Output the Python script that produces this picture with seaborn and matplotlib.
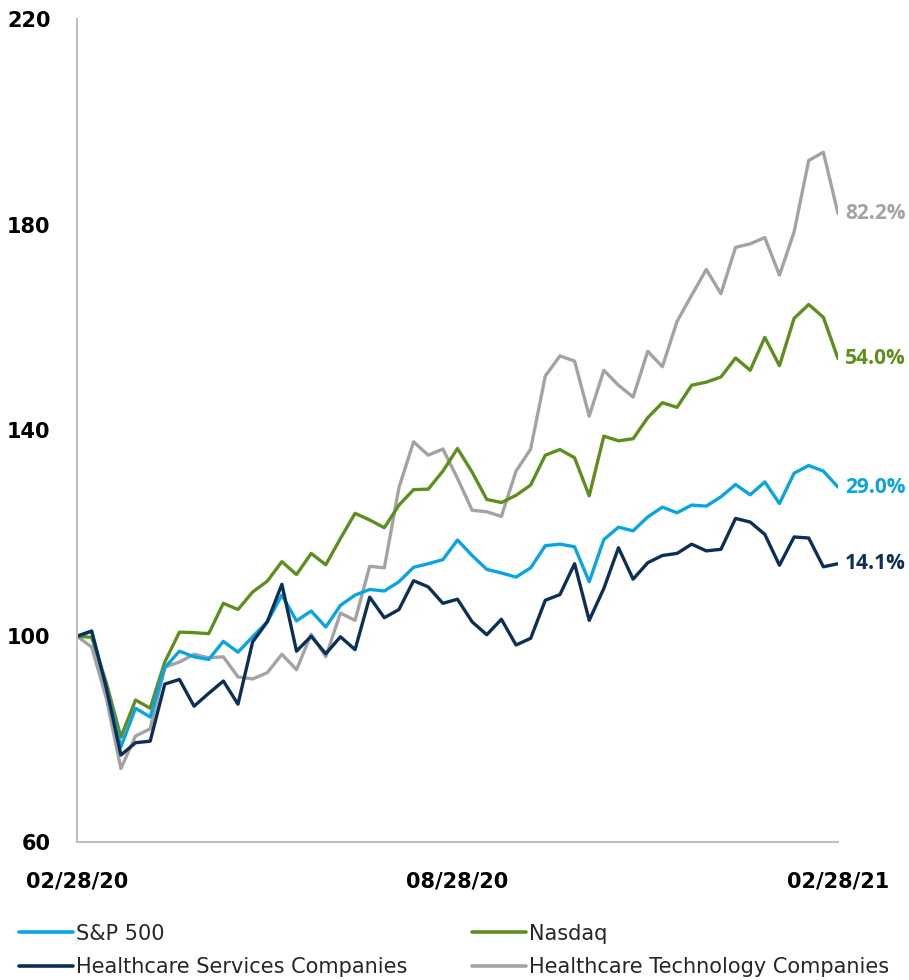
import numpy as np
import pandas as pd
import matplotlib
matplotlib.use("Agg")
import matplotlib.pyplot as plt
import seaborn as sns
from matplotlib.lines import Line2D

# weekly index values, 02/28/20 .. 02/28/21 (base 100)
sp500 = [100, 101, 90, 78.5, 86, 84.3, 93.9, 97.1, 96, 95.5, 99, 96.9, 99.9, 102.8,
         108, 103, 104.9, 101.8, 106, 108, 109.1, 108.8, 110.6, 113.4, 114.1, 114.9,
         118.7, 115.7, 113, 112.3, 111.5, 113.3, 117.6, 117.9, 117.4, 110.6, 118.8,
         121.2, 120.5, 123.2, 125.1, 124, 125.5, 125.3, 127.1, 129.5, 127.5, 130,
         125.8, 131.7, 133.2, 132.1, 129.0]
nasdaq = [100, 99.8, 91, 80.4, 87.6, 86, 95, 100.8, 100.7, 100.5, 106.4, 105.2, 108.6,
          110.7, 114.5, 112, 116.1, 113.9, 119, 123.9, 122.6, 121.1, 125.5, 128.5,
          128.6, 132.1, 136.5, 131.9, 126.6, 126, 127.4, 129.4, 135.2, 136.3, 134.7,
          127.3, 138.9, 138, 138.4, 142.5, 145.4, 144.5, 148.8, 149.4, 150.4, 154.1,
          151.7, 158.1, 152.6, 161.8, 164.5, 162, 154.0]
hc_services = [100, 101, 90, 76.9, 79.3, 79.6, 90.7, 91.6, 86.4, 88.9, 91.3, 86.8, 98.9,
               102.8, 110.1, 97.1, 100, 96.6, 99.9, 97.4, 107.6, 103.6, 105.2, 110.8,
               109.6, 106.4, 107.2, 102.8, 100.3, 103.3, 98.3, 99.6, 107, 108.1, 114.1,
               103.1, 109.3, 117.2, 111.1, 114.3, 115.7, 116.1, 117.9, 116.6, 116.9,
               122.9, 122.2, 119.8, 113.8, 119.3, 119.1, 113.5, 114.1]
hc_tech = [100, 97.9, 88, 74.3, 80.6, 82, 94, 95, 96.5, 95.8, 96, 92.1, 91.7, 92.9,
           96.5, 93.5, 100.4, 96, 104.5, 103.1, 113.6, 113.3, 128.9, 137.8, 135.2,
           136.4, 130.7, 124.5, 124.2, 123.3, 132.1, 136.4, 150.6, 154.5, 153.5, 142.8,
           151.7, 148.8, 146.5, 155.4, 152.4, 161.2, 166.3, 171.3, 166.6, 175.6, 176.3,
           177.5, 170.2, 178.6, 192.5, 194.1, 182.2]

series_names = ["S&P 500", "Nasdaq", "Healthcare Services Companies",
                "Healthcare Technology Companies"]
end_labels = ["29.0%", "54.0%", "14.1%", "82.2%"]
x_tick_labels = ["02/28/20", "08/28/20", "02/28/21"]
colors = {"S&P 500": "#0aa5e0", "Nasdaq": "#5e8f1e",
          "Healthcare Services Companies": "#0b2f55",
          "Healthcare Technology Companies": "#a3a3a3"}

week = np.arange(len(sp500))
df = pd.concat([
    pd.DataFrame({"week": week, "value": vals, "series": name})
    for name, vals in zip(series_names, [sp500, nasdaq, hc_services, hc_tech])
])

sns.set_style("white")
plt.rcParams["font.family"] = ["DejaVu Sans"]

fig = plt.figure(figsize=(9.09, 9.80), dpi=100)
ax = fig.add_axes([77 / 909, 1 - 842 / 980, (838 - 77) / 909, (842 - 19) / 980])

# gray first so it sits under the others
order = ["Healthcare Technology Companies", "Nasdaq", "S&P 500", "Healthcare Services Companies"]
for name in order:
    sns.lineplot(data=df[df.series == name], x="week", y="value", color=colors[name],
                 linewidth=2.4, ax=ax, legend=False)

ax.set_xlim(0, week[-1])
ax.set_ylim(60, 220)
ax.set_yticks([60, 100, 140, 180, 220])
ax.set_xticks([0, 26, 52])
ax.set_xticklabels(x_tick_labels)
ax.set_xlabel("")
ax.set_ylabel("")
for side in ["top", "right"]:
    ax.spines[side].set_visible(False)
for side in ["left", "bottom"]:
    ax.spines[side].set_color("#bfbfbf")
    ax.spines[side].set_linewidth(1.5)
ax.tick_params(axis="both", which="both", length=7, width=1.5, color="#bfbfbf",
               labelsize=15, direction="out")
ax.tick_params(axis="x", pad=14)
ax.tick_params(axis="y", pad=12)
for lab in ax.get_xticklabels() + ax.get_yticklabels():
    lab.set_fontweight("bold")
    lab.set_color("black")

# end-of-line labels
for name, vals, lab in zip(series_names, [sp500, nasdaq, hc_services, hc_tech], end_labels):
    ax.annotate(lab, xy=(week[-1], vals[-1]), xytext=(5, 0), textcoords="offset points",
                va="center", ha="left", color=colors[name], fontsize=15, fontweight="bold",
                family=["Open Sans", "DejaVu Sans"], annotation_clip=False)

handles = [Line2D([], [], color=colors[n], linewidth=2.6) for n in series_names]
leg_order = [0, 2, 1, 3]
fig.legend([handles[i] for i in leg_order], [series_names[i] for i in leg_order],
           ncol=2, loc="lower left", bbox_to_anchor=(0.0, -0.016), frameon=False,
           fontsize=15, handlelength=2.6, handletextpad=0.15, columnspacing=3.1,
           labelspacing=0.64)

fig.savefig("out.png", dpi=100)
